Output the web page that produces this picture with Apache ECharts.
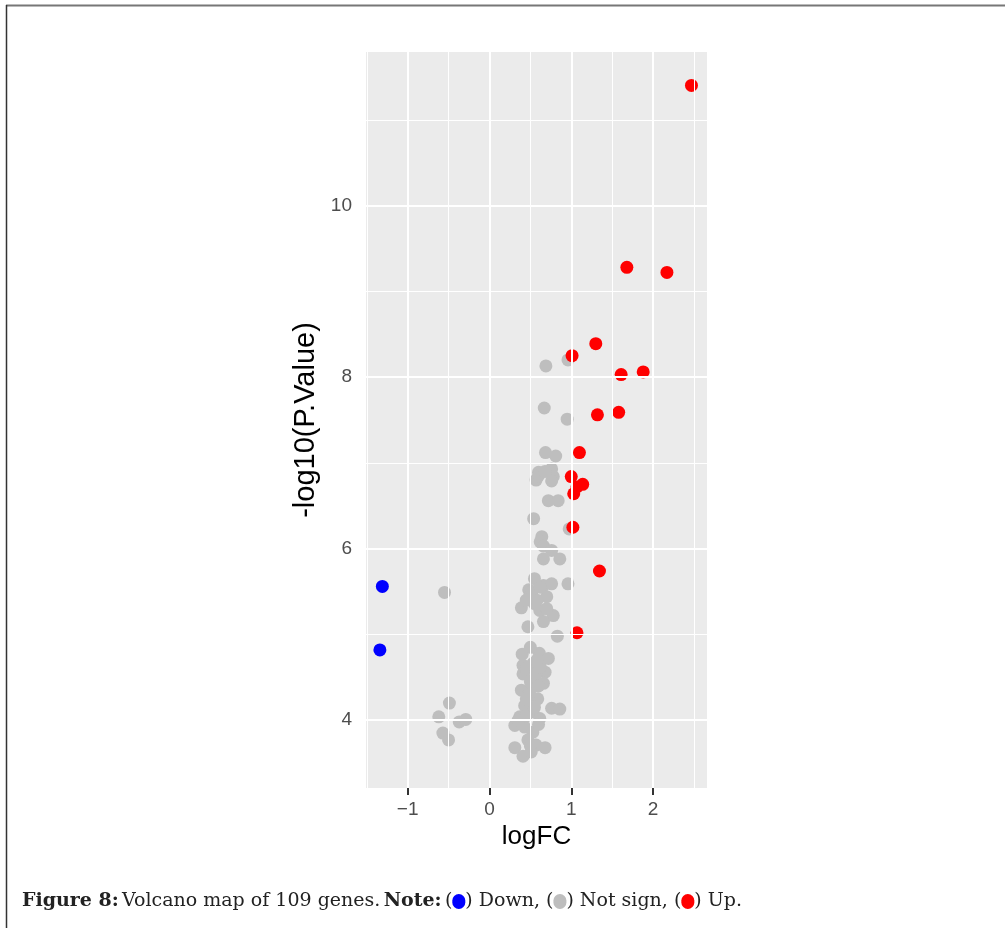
<!DOCTYPE html>
<html>
<head>
<meta charset="utf-8">
<script src="https://cdn.jsdelivr.net/npm/echarts@6/dist/echarts.min.js"></script>
<style>
html,body{margin:0;padding:0;background:#fff;}
#chart{width:1005px;height:928px;}
</style>
</head>
<body>
<div id="chart"></div>
<script>
// ---- data (logFC, -log10 P) ----
var upX = [2.47, 1.68, 2.17, 1.01, 1.30, 1.61, 1.88, 1.32, 1.58, 1.10, 1.00, 1.14, 1.07, 1.03, 1.02, 1.345, 1.07];
var upY = [11.40, 9.28, 9.22, 8.25, 8.39, 8.03, 8.06, 7.56, 7.59, 7.12, 6.84, 6.75, 6.72, 6.64, 6.25, 5.74, 5.02];

var downX = [-1.31, -1.34];
var downY = [5.56, 4.82];

var nsX = [0.96, 0.69, 0.67, 0.95, 0.685, 0.81,
  0.60, 0.76, 0.78, 0.57, 0.76,
  0.72, 0.84, 0.54, 0.975,
  0.64, 0.62, 0.66, 0.76, 0.66, 0.86,
  0.55, 0.66, 0.76, 0.96, 0.48, 0.49, 0.70, 0.39, 0.55, 0.615, 0.78, 0.66, 0.47, 0.83,
  0.40, 0.61, 0.72, 0.41, 0.53, 0.68, 0.41, 0.55, 0.66, 0.39, 0.51, 0.59, 0.43, 0.76, 0.86,
  0.53, 0.615, 0.37, 0.31, 0.43, 0.53, 0.47, 0.31, 0.57, 0.68, 0.41, 0.51,
  -0.55, -0.49, -0.62, -0.37, -0.29, -0.57, -0.50,
  0.45, 0.50, 0.60, 0.48, 0.57, 0.62, 0.35, 0.45, 0.60, 0.50, 0.45, 0.55,
  0.52, 0.58, 0.62, 0.45, 0.70, 0.60, 0.68, 0.50, 0.58];
var nsY = [8.20, 8.13, 7.64, 7.51, 7.12, 7.08,
  6.89, 6.93, 6.84, 6.80, 6.79,
  6.56, 6.56, 6.35, 6.23,
  6.14, 6.08, 6.03, 5.98, 5.88, 5.88,
  5.65, 5.57, 5.59, 5.59, 5.52, 5.44, 5.44, 5.31, 5.36, 5.28, 5.22, 5.15, 5.09, 4.98,
  4.77, 4.78, 4.72, 4.64, 4.66, 4.56, 4.54, 4.49, 4.43, 4.35, 4.37, 4.25, 4.17, 4.14, 4.13,
  4.10, 4.02, 4.04, 3.94, 3.92, 3.86, 3.77, 3.68, 3.71, 3.68, 3.58, 3.63,
  5.49, 4.20, 4.04, 3.98, 4.01, 3.85, 3.77,
  4.60, 4.45, 4.40, 4.30, 4.55, 4.62, 4.00, 4.05, 3.95, 3.70, 4.25, 4.15,
  5.50, 5.40, 5.55, 5.40, 5.30, 6.85, 6.90, 4.85, 4.70];

var xTicks = [-1, 0, 1, 2];
var xMinor = [-1.5, -0.5, 0.5, 1.5, 2.5];
var yTicks = [4, 6, 8, 10];
var yMinor = [5, 7, 9, 11];
var xName = 'logFC';
var yName = '-log10(P.Value)';

function zip(a, b) { return a.map(function (v, i) { return [v, b[i]]; }); }

var gridLines = [];
xTicks.forEach(function (v) { gridLines.push({ xAxis: v, lineStyle: { width: 2 } }); });
xMinor.forEach(function (v) { gridLines.push({ xAxis: v, lineStyle: { width: 1 } }); });
yTicks.forEach(function (v) { gridLines.push({ yAxis: v, lineStyle: { width: 2 } }); });
yMinor.forEach(function (v) { gridLines.push({ yAxis: v, lineStyle: { width: 1 } }); });

var chart = echarts.init(document.getElementById('chart'), null, { renderer: 'canvas' });

var tickLabelStyle = { color: '#4D4D4D', fontSize: 19, fontFamily: 'Liberation Sans, Arial, sans-serif' };

chart.setOption({
  backgroundColor: '#ffffff',
  animation: false,
  grid: {
    left: 366, top: 52, width: 341, height: 736,
    show: true, backgroundColor: '#EBEBEB', borderWidth: 0
  },
  xAxis: {
    type: 'value', min: -1.51, max: 2.66,
    axisLine: { show: true, lineStyle: { color: 'rgba(0,0,0,0)' } },
    splitLine: { show: false },
    axisTick: { show: true, customValues: xTicks, length: 7, lineStyle: { color: '#333333', width: 2 } },
    axisLabel: Object.assign({ customValues: xTicks, margin: 12,
      formatter: function (v) { return v < 0 ? '\u2212' + Math.abs(v) : String(v); } }, tickLabelStyle),
    name: xName, nameLocation: 'middle', nameGap: 35,
    nameTextStyle: { color: '#000000', fontSize: 26, fontFamily: 'Liberation Sans, Arial, sans-serif' }
  },
  yAxis: {
    type: 'value', min: 3.21, max: 11.79,
    axisLine: { show: true, lineStyle: { color: 'rgba(0,0,0,0)' } },
    splitLine: { show: false },
    axisTick: { show: true, customValues: yTicks, length: 7, lineStyle: { color: '#333333', width: 2 } },
    axisLabel: Object.assign({ customValues: yTicks, margin: 14 }, tickLabelStyle),
    name: yName, nameLocation: 'middle', nameGap: 46, nameRotate: 90,
    nameTextStyle: { color: '#000000', fontSize: 29, fontFamily: 'Liberation Sans, Arial, sans-serif' }
  },
  series: [
    {
      type: 'scatter', data: [], z: 1, silent: true,
      markLine: {
        silent: true, symbol: ['none', 'none'], animation: false,
        label: { show: false },
        lineStyle: { color: '#ffffff', type: 'solid', width: 1 },
        emphasis: { disabled: true },
        data: gridLines
      }
    },
    {
      type: 'scatter', name: 'Not sign', z: 3, symbolSize: 13,
      itemStyle: { color: '#BEBEBE', opacity: 1 },
      data: zip(nsX, nsY)
    },
    {
      type: 'scatter', name: 'Down', z: 4, symbolSize: 13,
      itemStyle: { color: '#0000FF', opacity: 1 },
      data: zip(downX, downY)
    },
    {
      type: 'scatter', name: 'Up', z: 4, symbolSize: 13,
      itemStyle: { color: '#FF0000', opacity: 1 },
      data: zip(upX, upY)
    }
  ],
  graphic: [
    { type: 'line', shape: { x1: 6, y1: 5.5, x2: 1005, y2: 5.5 }, style: { stroke: '#777777', lineWidth: 2 } },
    { type: 'line', shape: { x1: 6.5, y1: 5, x2: 6.5, y2: 928 }, style: { stroke: '#333333', lineWidth: 1.5 } },
    {
      type: 'text', left: 22, top: 892,
      style: {
        text: '{b|Figure 8:} {r|Volcano map of 109 genes.} {b|Note:} {r|(}{cb| }{r|) Down, (}{cg| }{r|) Not sign, (}{cr| }{r|) Up.}',
        rich: {
          b: { fontFamily: 'DejaVu Serif, serif', fontWeight: 'bold', fontSize: 19, fill: '#222222' },
          r: { fontFamily: 'DejaVu Serif, serif', fontSize: 19, fill: '#222222' },
          cb: { width: 13, height: 15, backgroundColor: '#0000FF', borderRadius: 7, fontSize: 4 },
          cg: { width: 13, height: 15, backgroundColor: '#BEBEBE', borderRadius: 7, fontSize: 4 },
          cr: { width: 13, height: 15, backgroundColor: '#FF0000', borderRadius: 7, fontSize: 4 }
        }
      }
    }
  ]
});
</script>
</body>
</html>
